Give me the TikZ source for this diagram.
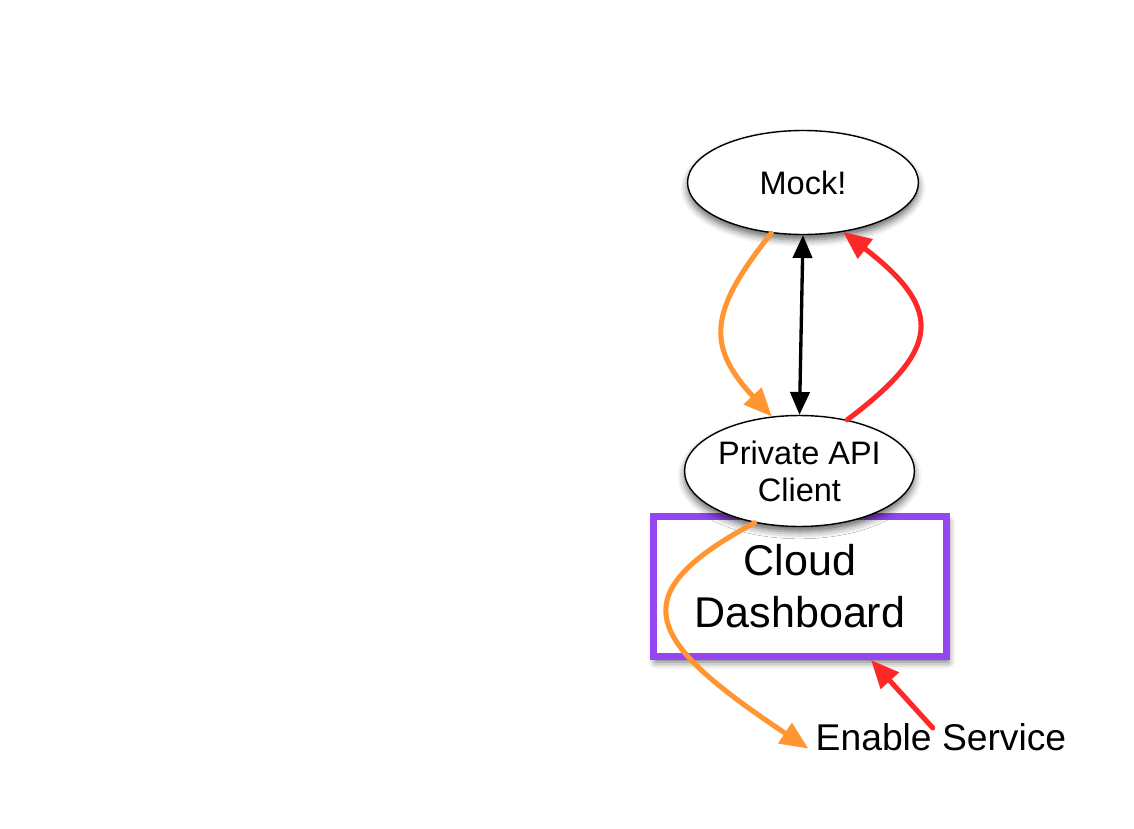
\documentclass[tikz,border=0pt]{standalone}
\usepackage{fontspec}
\setmainfont{Liberation Sans}
\usetikzlibrary{shapes.geometric,arrows.meta,shadows.blur}
\definecolor{floworange}{RGB}{255,150,50}
\definecolor{flowred}{RGB}{255,40,40}
\definecolor{dashpurple}{RGB}{150,70,240}
\tikzset{
  bubble/.style={ellipse,draw=black,line width=0.8pt,fill=white,inner sep=0pt,align=center,
    blur shadow={shadow xshift=0pt,shadow yshift=-3pt,shadow blur radius=4pt,shadow opacity=60}},
  orangeflow/.style={draw=floworange,line width=2.9pt,line cap=round,-{Triangle[length=16pt,width=13.5pt]}},
  redflow/.style={draw=flowred,line width=2.9pt,line cap=round,-{Triangle[length=16pt,width=13.5pt]}},
  blackflow/.style={draw=black,line width=1.9pt,{Triangle[length=13pt,width=11pt]}-{Triangle[length=13pt,width=11pt]}},
}
\begin{document}
\begin{tikzpicture}[x=0.02cm,y=-0.02cm]
\useasboundingbox (0,0) rectangle (1134,829);
% the dashboard box sits under the client
\node[draw=dashpurple,line width=4pt,fill=white,minimum width=5.86cm,minimum height=2.8cm,align=center,
  font=\fontsize{24.5}{29.5}\selectfont,
  blur shadow={shadow xshift=1pt,shadow yshift=-3pt,shadow blur radius=4pt,shadow opacity=60}] (dash) at (800,586.5) {Cloud\\Dashboard};
\node[bubble,minimum width=4.48cm,minimum height=2.22cm,font=\fontsize{18.5}{21}\selectfont] (client) at (799.5,471) {Private API\\Client};
\node[bubble,minimum width=4.62cm,minimum height=2.08cm,font=\fontsize{18.5}{20}\selectfont] (mock) at (803,182.5) {Mock!};
\node[inner sep=4pt,font=\fontsize{21.2}{25}\selectfont] (enable) at (941,737) {Enable Service};
% connectors
\draw[blackflow] (mock.south) -- (client.north);
\draw[orangeflow] (mock.238) .. controls (710,310) and (705,345) .. (client.117);
\draw[redflow] (client.47) .. controls (940,350) and (945,310) .. (mock.309);
\draw[orangeflow] (client.229) .. controls (620,595) and (645,640) .. (enable.185);
\draw[redflow,shorten <=7pt] (enable.center) -- (dash.-46);
\end{tikzpicture}
\end{document}
